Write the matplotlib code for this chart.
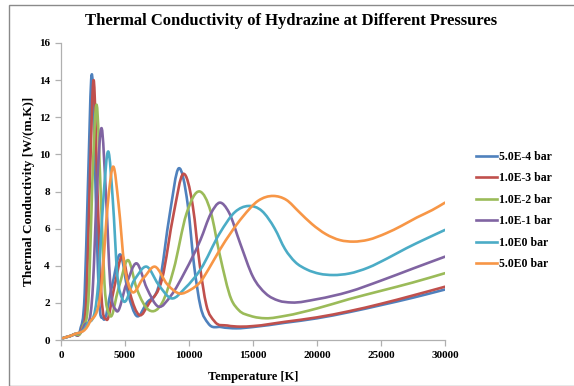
import matplotlib
matplotlib.use("Agg")
import matplotlib.pyplot as plt
import numpy as np
from matplotlib.path import Path
from matplotlib.patches import PathPatch, Rectangle
from matplotlib.lines import Line2D

plt.rcParams['font.family'] = ['Liberation Serif', 'DejaVu Serif']

labels = ["5.0E-4 bar", "1.0E-3 bar", "1.0E-2 bar", "1.0E-1 bar", "1.0E0 bar", "5.0E0 bar"]
colors = ["#4F81BD", "#C0504D", "#9BBB59", "#8064A2", "#4BACC6", "#F79646"]

t_p1 = [150, 1000, 1500, 1850, 2100, 2420, 2700, 2950, 3300, 3950, 4650, 5250, 5900, 6700, 7700,
        8500, 9200, 9900, 10400, 10900, 11500, 12500, 13700, 15000, 17500, 20000, 22500, 25000, 27500, 30000]
k_p1 = [0.1, 0.3, 0.55, 2.5, 8.2, 14.3, 8.2, 2.5, 1.15, 2.8, 4.6, 2.5, 1.3, 2.0, 3.1,
        6.8, 9.25, 7.3, 4.0, 1.8, 0.9, 0.7, 0.63, 0.7, 0.93, 1.17, 1.5, 1.88, 2.28, 2.72]

t_p2 = [150, 1000, 1600, 2000, 2250, 2550, 2850, 3150, 3550, 4150, 4800, 5400, 6100, 6900, 7900,
        8800, 9550, 10300, 10850, 11350, 12000, 13000, 14000, 15000, 17500, 20000, 22500, 25000, 27500, 30000]
k_p2 = [0.1, 0.3, 0.6, 2.5, 8.5, 14.0, 8.0, 2.5, 1.1, 2.8, 4.5, 2.5, 1.35, 2.0, 3.3,
        6.8, 8.95, 7.2, 4.0, 1.9, 1.0, 0.78, 0.72, 0.75, 0.98, 1.22, 1.55, 1.95, 2.4, 2.87]

t_p3 = [150, 1000, 1700, 2200, 2450, 2790, 3100, 3400, 3800, 4500, 5250, 5900, 6900, 7900, 8800,
        9800, 10850, 11700, 12400, 13300, 13900, 14800, 16000, 17500, 20000, 22500, 25000, 27500, 30000]
k_p3 = [0.1, 0.3, 0.7, 3.0, 8.5, 12.66, 8.0, 3.0, 1.35, 2.8, 4.3, 2.8, 1.6, 2.0, 3.8,
        6.8, 8.0, 6.9, 4.6, 2.2, 1.6, 1.3, 1.17, 1.3, 1.7, 2.2, 2.65, 3.1, 3.6]

t_p4 = [150, 1000, 1800, 2500, 2800, 3180, 3500, 3850, 4300, 5100, 5900, 6700, 7600, 8600, 9700,
        10900, 11700, 12400, 13100, 14000, 15000, 16000, 17000, 18000, 20000, 22500, 25000, 27500, 30000]
k_p4 = [0.1, 0.3, 0.75, 3.0, 8.0, 11.4, 8.0, 3.0, 1.6, 3.0, 4.13, 2.8, 1.8, 2.4, 3.7,
        5.4, 6.8, 7.4, 6.9, 5.2, 3.4, 2.5, 2.12, 2.02, 2.2, 2.6, 3.2, 3.85, 4.49]

t_p5 = [150, 1000, 2000, 2900, 3300, 3700, 4050, 4400, 4800, 5700, 6700, 7600, 8650, 9700, 10900,
        12400, 13600, 14640, 15700, 16700, 17500, 18300, 19200, 20200, 21270, 22500, 24000, 25500,
        27000, 28500, 30000]
k_p5 = [0.1, 0.3, 0.8, 3.0, 7.5, 10.15, 7.5, 3.5, 2.2, 3.2, 3.95, 3.0, 2.24, 2.8, 3.8,
        5.75, 6.9, 7.22, 6.95, 6.0, 4.9, 4.2, 3.8, 3.57, 3.5, 3.58, 3.9, 4.4,
        4.95, 5.45, 5.93]

t_p6 = [150, 1000, 2200, 3200, 3650, 4090, 4500, 4950, 5450, 6400, 7340, 8300, 9300, 10100, 10900,
        11600, 12400, 14200, 15400, 16590, 17600, 18600, 19600, 20700, 21800, 22840, 24000, 25400,
        26600, 27800, 29000, 30000]
k_p6 = [0.1, 0.3, 0.9, 3.2, 7.3, 9.34, 7.3, 4.0, 2.7, 3.3, 3.95, 3.0, 2.5, 2.7, 3.14,
        3.9, 4.85, 6.64, 7.5, 7.76, 7.55, 6.9, 6.25, 5.7, 5.38, 5.3, 5.4, 5.75,
        6.15, 6.6, 7.0, 7.4]

series = [(t_p1, k_p1), (t_p2, k_p2), (t_p3, k_p3), (t_p4, k_p4), (t_p5, k_p5), (t_p6, k_p6)]

x_ticks = [0, 5000, 10000, 15000, 20000, 25000, 30000]
y_ticks = [0, 2, 4, 6, 8, 10, 12, 14, 16]


def smooth_path(xs, ys):
    """Smooth curve through the data points (cubic Hermite, drawn as Bezier segments)."""
    x = np.asarray(xs, float)
    y = np.asarray(ys, float)
    n = len(x)
    h = np.diff(x)
    d = np.diff(y) / h
    m = np.empty(n)
    m[0] = d[0]
    m[-1] = d[-1]
    for i in range(1, n - 1):
        m[i] = (d[i - 1] * h[i] + d[i] * h[i - 1]) / (h[i - 1] + h[i])
    verts = [(x[0], y[0])]
    codes = [Path.MOVETO]
    for i in range(n - 1):
        c1 = (x[i] + h[i] / 3.0, y[i] + m[i] * h[i] / 3.0)
        c2 = (x[i + 1] - h[i] / 3.0, y[i + 1] - m[i + 1] * h[i] / 3.0)
        verts += [c1, c2, (x[i + 1], y[i + 1])]
        codes += [Path.CURVE4] * 3
    return Path(verts, codes)


W, H = 574, 386
fig = plt.figure(figsize=(W / 100, H / 100), dpi=100)
ax = fig.add_axes([61 / W, 1 - 340 / H, (445 - 61) / W, (340 - 43) / H])

handles = []
for (xs, ys), c, lab in zip(series, colors, labels):
    patch = PathPatch(smooth_path(xs, ys), facecolor='none', edgecolor=c, lw=1.9,
                      transform=ax.transData, capstyle='round', joinstyle='round')
    ax.add_patch(patch)
    handles.append(Line2D([], [], color=c, lw=1.9, label=lab))

ax.set_xlim(0, 30000)
ax.set_ylim(0, 16)
ax.set_xticks(x_ticks)
ax.set_yticks(y_ticks)
ax.set_xticklabels([str(v) for v in x_ticks], fontsize=8, fontweight='bold')
ax.set_yticklabels([str(v) for v in y_ticks], fontsize=8, fontweight='bold')
for s in ['top', 'right']:
    ax.spines[s].set_visible(False)
for s in ['left', 'bottom']:
    ax.spines[s].set_color('#b0b0b0')
    ax.spines[s].set_linewidth(0.9)
ax.tick_params(axis='both', direction='out', length=4, color='#b0b0b0', width=0.9, pad=4)

ax.set_xlabel("Temperature [K]", fontsize=9, fontweight='bold', labelpad=8)
ax.set_ylabel("Thermal Conductivity [W/(m.K)]", fontsize=9.5, fontweight='bold', labelpad=3)
fig.text(291 / W, 1 - 21 / H, "Thermal Conductivity of Hydrazine at Different Pressures",
         ha='center', va='center', fontsize=12, fontweight='bold')

leg = fig.legend(handles=handles, loc='upper left', bbox_to_anchor=(476 / W, 1 - 151 / H),
                 frameon=False, prop={'size': 8.5, 'weight': 'bold'},
                 handlelength=1.75, handletextpad=0.2, labelspacing=0.8, borderaxespad=0, borderpad=0)

fig.patches.append(Rectangle((9 / W, 0.5 / H), 1.2, (H - 5.5) / H, transform=fig.transFigure,
                             fill=False, edgecolor='#8a8a8a', lw=1.0))

fig.savefig("out.png", dpi=100)
